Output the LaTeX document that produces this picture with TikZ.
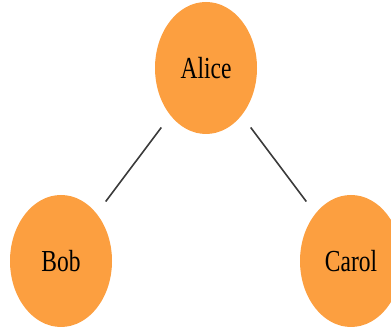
\documentclass[tikz,border=0pt]{standalone}
\usepackage{graphicx}
\usepackage{fontspec}
\setmainfont{Liberation Serif}
\usetikzlibrary{shapes.geometric}
\definecolor{nodeorange}{RGB}{252,159,64}
\definecolor{edgegray}{RGB}{60,60,60}
\newcommand{\stretchy}[1]{\scalebox{1}[1.3]{#1}}
\tikzset{
  person/.style={ellipse, fill=nodeorange, draw=none, inner sep=0pt,
    minimum width=102pt, minimum height=132pt,
    font=\fontsize{23.5}{23.5}\selectfont},
  link/.style={draw=edgegray, line width=1.6pt, shorten <=15pt, shorten >=15pt}
}
\begin{document}
\begin{tikzpicture}[x=1pt,y=1pt]
      \useasboundingbox (0,0) rectangle (391,336);
      \draw
        (206,268) node[person] (alice){\stretchy{Alice}}
        (61,75) node[person] (bob){\stretchy{Bob}}
        (351,75) node[person] (carol){\stretchy{Carol}};
      \begin{scope}[link]
        \draw (alice) to (bob);
        \draw (alice) to (carol);
      \end{scope}
    \end{tikzpicture}
\end{document}
